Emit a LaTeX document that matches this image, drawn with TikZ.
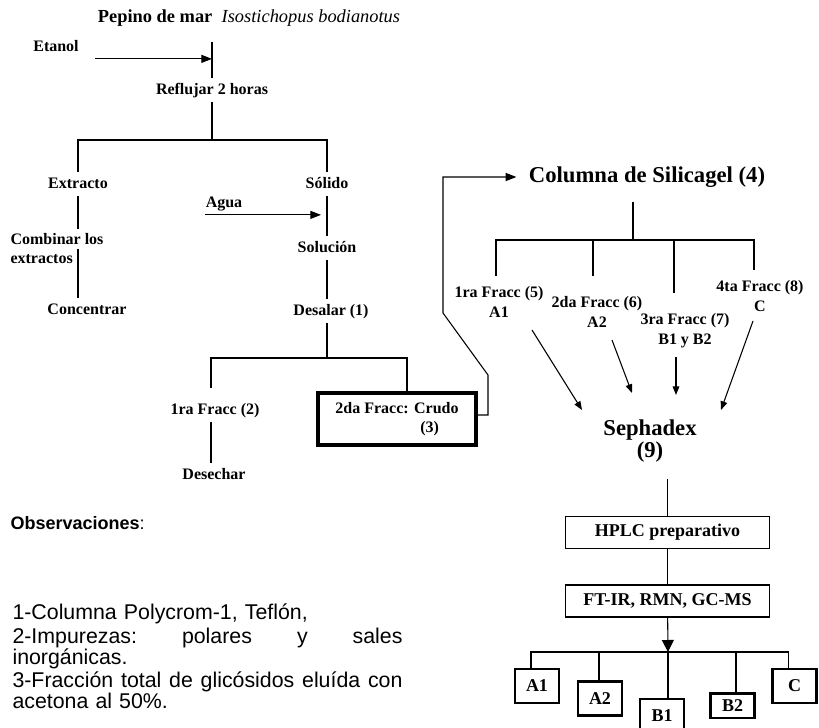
\documentclass[tikz,border=0pt]{standalone}
\usepackage{fontspec}
\setmainfont{Liberation Serif}
\newfontfamily\obsfont{Liberation Sans}
\usetikzlibrary{arrows.meta,calc}
\def\obsw{292.5pt}

\tikzset{
  lbl/.style={font=\fontsize{12}{14}\selectfont\bfseries, inner sep=3pt, text height=8.5pt, text depth=2.5pt},
  twoline/.style={font=\fontsize{12}{15}\selectfont\bfseries, align=center, inner sep=3pt},
  big/.style={font=\fontsize{17}{16.5}\selectfont\bfseries, align=center, inner sep=3pt},
  stagebox/.style={draw, line width=1pt, font=\fontsize{13.5}{15}\selectfont\bfseries, minimum width=153pt, minimum height=24pt, inner sep=0pt},
  resbox/.style={draw, line width=2pt, font=\fontsize{13.5}{15}\selectfont\bfseries, minimum width=33pt, minimum height=25.5pt, inner sep=0pt},
  arr/.style={-{Triangle[length=8pt,width=6pt]}},
  arrsmall/.style={-{Triangle[length=6.5pt,width=5pt]}},
  arrbig/.style={-{Triangle[length=9pt,width=9pt]}},
}

\begin{document}
\begin{tikzpicture}[x=0.75pt, y=-0.75pt, line width=0.8pt]
\useasboundingbox (0,0) rectangle (819,728);
\clip (0,0) rectangle (819,728);

% extraccion
\node[lbl, font=\fontsize{13.8}{16}\selectfont\bfseries] (pepino) at (249,18) {Pepino de mar\hspace{7pt}\textit{\mdseries Isostichopus bodianotus}};
\node[lbl] (etanol) at (56,47) {Etanol};
\node[lbl] (reflujar) at (212,90) {Reflujar 2 horas};
\node[lbl] (extracto) at (78,184) {Extracto};
\node[lbl] (solido) at (327,184) {Sólido};
\node[lbl] (agua) at (224,203) {Agua};
\node[twoline, align=left, anchor=north west, font=\fontsize{12}{14.25}\selectfont\bfseries] (combinar) at (6,229) {Combinar los\\extractos};
\node[lbl] (concentrar) at (87,310) {Concentrar};
\node[lbl] (solucion) at (327,248) {Solución};
\node[lbl] (desalar) at (331,311) {Desalar (1)};
\node[lbl] (fr2) at (215,410) {1ra Fracc (2)};
\node[lbl] (desechar) at (214,475) {Desechar};
\node[draw, line width=3pt, minimum width=118pt, minimum height=39pt, align=center,
  font=\fontsize{12}{14}\selectfont\bfseries] (crudo) at (397,419) {2da Fracc: Crudo\\\hspace*{49pt}(3)};

\coordinate (j1) at (212,140);
\coordinate (j2) at (327,358);
\draw ($(pepino.south -| reflujar)+(0,12)$) -- (reflujar);
\draw[arr] ($(etanol.south east)+(12,0)$) -- (etanol.south east -| reflujar);
\draw (reflujar) -- (j1);
\draw (extracto) |- (j1) -| (solido);
\draw (extracto) -- (extracto |- combinar.north);
\draw (extracto |- combinar.east) -- (extracto |- concentrar.north);
\draw (solido) -- (solucion);
\draw[arr] ($(agua.south west)+(4,0)$) -- ($(agua.south west -| solido)+(-6,0)$);
\draw (solucion) -- (desalar.north -| solucion);
\draw (desalar.south -| solucion) -- (j2);
\draw ($(fr2.north)+(-4,-10)$) |- (j2) -| ($(crudo.north)+(10,0)$);
\draw ($(fr2.south)+(-4,0)$) -- ($(desechar.north)+(-3,0)$);

% columna de silicagel
\node[big] (columna) at (647,177) {Columna de Silicagel (4)};
\node[twoline] (f5) at (499,302) {1ra Fracc (5)\\A1};
\node[twoline] (f6) at (597,312) {2da Fracc (6)\\A2};
\node[twoline] (f7) at (685,331) {3ra Fracc (7)\\B1 y B2};
\node[twoline] (f8) at (760,296) {4ta Fracc (8)\\C};
\node[big] (sephadex) at (650,441) {Sephadex\\(9)};

\coordinate (k1) at (488,375);
\coordinate (k2) at (443,313);
\coordinate (j3) at (633,240);
\draw[arr, shorten >=6pt] ($(crudo.east)+(0,-4)$) -| (k1) -- (k2) |- (columna.west);
\draw ($(columna.south -| j3)+(0,10)$) -- (j3);
\draw ($(f5.north)+(-3,-6)$) |- (j3) -| ($(f8.north)+(-6,-6)$);
\draw ($(f6.north)+(-4,-16)$) |- (j3);
\draw ($(f7.north)+(-11,-16)$) |- (j3);
\draw[arrsmall] ($(f5)+(33,28)$) -- ($(sephadex)+(-68,-31)$);
\draw[arrsmall] ($(f6)+(15,28)$) -- ($(sephadex)+(-18,-48)$);
\draw[arrsmall] ($(f7)+(-9,26)$) -- ($(sephadex)+(26,-46)$);
\draw[arrsmall] ($(f8)+(-7,25)$) -- ($(sephadex)+(71,-31)$);

% purificacion
\node[stagebox] (hplc) at (667.5,532.5) {HPLC preparativo};
\node[stagebox] (ftir) at (667.5,601) {FT-IR, RMN, GC-MS};
\node[resbox] (a1) at (537,686) {A1};
\node[resbox] (a2) at (600,698.5) {A2};
\node[resbox] (b1) at (662,716) {B1};
\node[resbox, minimum height=18.5pt] (b2) at (732.5,705.5) {B2};
\node[resbox] (c) at (794.5,686) {C};

\coordinate (j4) at (668,652);
\draw ($(sephadex.south -| hplc)+(0,12)$) -- (hplc);
\draw (hplc) -- (ftir);
\draw[arrbig] (ftir) -- (j4);
\draw ($(a1.north)+(-6,0)$) |- (j4) -| ($(c.north)+(-6,0)$);
\draw ($(a2.north)+(-1,0)$) |- (j4);
\draw (j4) -- ($(b1.north)+(6,0)$);
\draw ($(b2.north)+(3.5,0)$) |- (j4);

% observaciones
\node[anchor=west, inner sep=0pt, font=\obsfont\fontsize{13.5}{16}\selectfont] (obstit) at (10,523) {\textbf{Observaciones}:};
\node[anchor=north west, inner sep=0pt, align=left, text width=\obsw,
  font=\obsfont\fontsize{16}{15.5}\selectfont] (notas) at (12,603)
  {1-Columna Polycrom-1, Teflón,\\[3pt]
   \makebox[\obsw]{2-Impurezas:\hfill polares\hfill y\hfill sales}\\
   inorgánicas.\\[2pt]
   \makebox[\obsw]{3-Fracción\hfill total\hfill de\hfill glicósidos\hfill eluída\hfill con}\\
   acetona al 50\%.};
\end{tikzpicture}
\end{document}
